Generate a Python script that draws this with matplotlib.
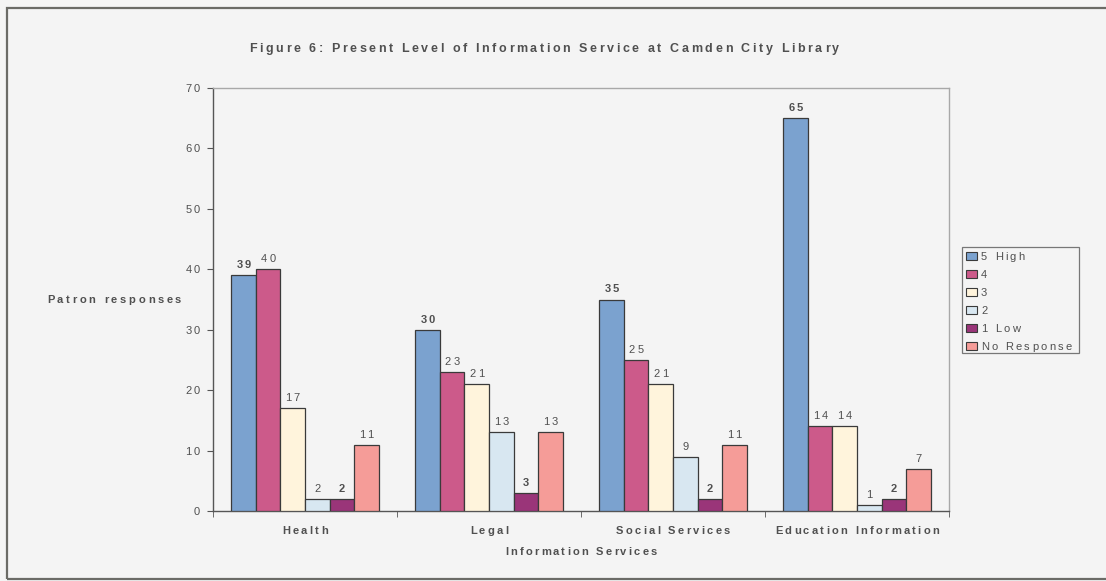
import matplotlib
matplotlib.use("Agg")
import matplotlib.pyplot as plt
from matplotlib.patches import Rectangle
from matplotlib.transforms import IdentityTransform
from matplotlib.font_manager import FontProperties, findfont, get_font
import numpy as np

try:
    from matplotlib.ft2font import LoadFlags
    NO_HINT = LoadFlags.NO_HINTING
except ImportError:
    from matplotlib.ft2font import LOAD_NO_HINTING as NO_HINT

FAMILY = ['Liberation Sans', 'DejaVu Sans']
plt.rcParams['font.family'] = FAMILY

categories = ["Health", "Legal", "Social Services", "Education Information"]
series_names = ["5 High", "4", "3", "2", "1 Low", "No Response"]
values = {
    "5 High": [39, 30, 35, 65],
    "4": [40, 23, 25, 14],
    "3": [17, 21, 21, 14],
    "2": [2, 13, 9, 1],
    "1 Low": [2, 3, 2, 2],
    "No Response": [11, 13, 11, 7],
}
colors = ["#7ba2cf", "#cc5a8a", "#fff4dc", "#d8e7f1", "#9a3579", "#f59c98"]
bold_labels = {"5 High", "1 Low"}
yticks = [0, 10, 20, 30, 40, 50, 60, 70]
title = "Figure 6: Present Level of Information Service at Camden City Library"
ylabel = "Patron responses"
xlabel = "Information Services"

bg = "#f4f4f4"
text_c = "#505050"
W, H = 1106, 581
DPI = 100
fig = plt.figure(figsize=(W / DPI, H / DPI), dpi=DPI, facecolor=bg)
PIX = IdentityTransform()


def advances(s, size, weight):
    prop = FontProperties(family=FAMILY, size=size, weight=weight)
    font = get_font(findfont(prop))
    font.set_size(size, DPI)
    out = []
    for c in s:
        g = font.load_char(ord(c), flags=NO_HINT)
        out.append(g.linearHoriAdvance / 65536)
    return out


def tracked(x, y, s, size, weight="normal", ha="center", track=2.3):
    """Draw text letter by letter with extra spacing; x, y in pixels
    from the top-left corner, y is the baseline."""
    adv = advances(s, size, weight)
    total = sum(adv) + track * (len(s) - 1)
    if ha == "center":
        pos = x - total / 2
    elif ha == "right":
        pos = x - total
    else:
        pos = x
    for c, a in zip(s, adv):
        if c != " ":
            fig.text(pos, H - y, c, transform=PIX, ha="left", va="baseline",
                     fontsize=size, fontweight=weight, color=text_c)
        pos += a + track


# outer chart frame
fig.patches.append(Rectangle((7, H - 579), 1200, 579 - 8, transform=PIX,
                             fill=False, edgecolor="#6b6b66", linewidth=1.6))

ax_l, ax_t, ax_r, ax_b = 213, 88, 949, 511
ax = fig.add_axes([ax_l / W, 1 - ax_b / H, (ax_r - ax_l) / W, (ax_b - ax_t) / H])
ax.set_facecolor(bg)

n = len(series_names)
gap = 1.5
bw = 1.0 / (n + gap)
x = np.arange(len(categories))
ax.set_xlim(-0.5, len(categories) - 0.5)
ax.set_ylim(0, 70)


def to_px(xd, yd):
    px, py = ax.transData.transform((xd, yd))
    return px, H - py


for i, (name, col) in enumerate(zip(series_names, colors)):
    offs = (i - (n - 1) / 2) * bw
    ax.bar(x + offs, values[name], width=bw, color=col,
           edgecolor="#3a3a3a", linewidth=0.9, zorder=3)
    for xi, v in zip(x + offs, values[name]):
        px, py = to_px(xi, v)
        tracked(px, py - 7, str(v), 8,
                weight="bold" if name in bold_labels else "normal", track=2.2)

ax.set_yticks(yticks)
ax.set_yticklabels([])
ax.tick_params(axis="y", direction="out", length=4, color="#555555")
for t in yticks:
    px, py = to_px(-0.5, t)
    tracked(ax_l - 13, py + 4, str(t), 8, ha="right", track=2.2)

ax.set_xticks(x)
ax.set_xticklabels([])
ax.tick_params(axis="x", length=0)
ax.set_xticks(np.arange(len(categories) + 1) - 0.5, minor=True)
ax.tick_params(axis="x", which="minor", length=4, direction="out", color="#555555")
for xi, cat in zip(x, categories):
    px, _ = to_px(xi, 0)
    tracked(px, 534, cat, 8, weight="bold", track=2.3)

for s in ["top", "right"]:
    ax.spines[s].set_color("#a8a8a8")
    ax.spines[s].set_linewidth(1.0)
for s in ["left", "bottom"]:
    ax.spines[s].set_color("#555555")
    ax.spines[s].set_linewidth(1.0)

tracked(544, 52, title, 9, weight="bold", track=2.6)
tracked(114, 303, ylabel, 8, weight="bold", track=2.7)
tracked(581, 555, xlabel, 8, weight="bold", track=2.2)

# legend
lx0, ly0, lx1, ly1 = 962, 247, 1079, 353
fig.patches.append(Rectangle((lx0, H - ly1), lx1 - lx0, ly1 - ly0, transform=PIX,
                             facecolor=bg, edgecolor="#777777", linewidth=0.9))
row_h = 18
for k, (name, col) in enumerate(zip(series_names, colors)):
    cy = 256 + k * row_h
    fig.patches.append(Rectangle((966, H - cy - 4), 11, 8, transform=PIX,
                                 facecolor=col, edgecolor="#3a3a3a", linewidth=0.8))
    tracked(981, cy + 4, name, 8, ha="left", track=2.3)

fig.savefig("out.png", dpi=DPI, facecolor=bg)
